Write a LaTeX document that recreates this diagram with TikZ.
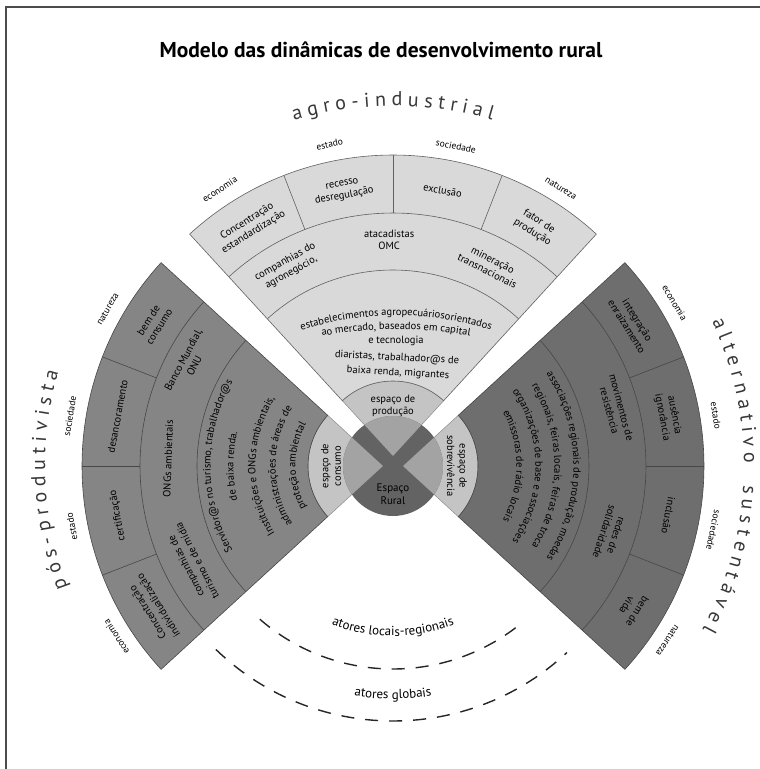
\documentclass[tikz,border=0pt]{standalone}
\usepackage{fontspec}
\setmainfont{PT Sans}
\usetikzlibrary{calc,decorations.text}
\newcommand\annsec[4]{(#1:#4pt) arc[start angle=#1, end angle=#2, radius=#4pt] -- (#2:#3pt) arc[start angle=#2, end angle=#1, radius=#3pt] -- cycle}
\newcommand\wedgep[3]{(0,0) -- (#1:#3pt) arc[start angle=#1, end angle=#2, radius=#3pt] -- cycle}
\newcommand\arctxt[6]{\path[decorate, decoration={text along path, text align=center, text={|#5|#6}}] ($(#1)+(#2:#4pt)$) arc[start angle=#2, end angle=#3, radius=#4pt];}
\newcommand\ctxt{\fontsize{10.5}{12.5}\selectfont}
\newcommand\ttlfont{\color{black!78}\fontsize{20}{24}\selectfont}
\definecolor{topfill}{gray}{0.85}
\definecolor{espfill}{gray}{0.77}
\definecolor{wedgefill}{gray}{0.64}
\definecolor{circfill}{gray}{0.39}
\definecolor{leftfill}{gray}{0.52}
\definecolor{rightfill}{gray}{0.43}
\begin{document}
\begin{tikzpicture}[x=1pt,y=1pt,
  secline/.style={draw=black!62, line width=0.6pt},
  darkline/.style={draw=black!72, line width=0.6pt},
  espline/.style={draw=black!45, line width=0.5pt},
  cell/.style={font=\ctxt, align=center, inner sep=0pt},
  lbl/.style={font=\fontsize{9.5}{11}\selectfont, inner sep=0pt},
  dashline/.style={draw=black!85, line width=1.4pt, dash pattern=on 13pt off 11pt}]
\useasboundingbox (-393,-303) rectangle (367,466);
\fill[white] (-393,-303) rectangle (367,466);
\draw[black!70, line width=1.5pt] (-387,-303) -- (-387,459) -- (367,459);

% title
\node[font=\bfseries\fontsize{21.5}{25}\selectfont] (title) at (-12,416) {Modelo das dinâmicas de desenvolvimento rural};

% ---------- top sector ----------
\begin{scope}[shift={(0,10)}]
  \coordinate (T) at (0,0);
  \fill[espfill] \wedgep{47.5}{132.5}{75};
  \draw[espline] \wedgep{47.5}{132.5}{75};
  \fill[topfill] \annsec{47.5}{132.5}{75}{301};
  \draw[secline] \annsec{47.5}{132.5}{75}{301};
  \draw[secline] (47.5:243pt) arc[start angle=47.5, end angle=132.5, radius=243pt];
  \draw[secline] (47.5:186pt) arc[start angle=47.5, end angle=132.5, radius=186pt];
  \foreach \a in {68.75,90,111.25} \draw[secline] (\a:243pt) -- (\a:301pt);
  \node[cell, rotate=31.9] (t1) at (121.9:270pt) {Concentração\\estandardização};
  \node[cell, rotate=10.6] (t2) at (100.6:270pt) {recesso\\desregulação};
  \node[cell, rotate=-10.6] (t3) at (79.4:270pt) {exclusão};
  \node[cell, rotate=-31.9] (t4) at (58.1:270pt) {fator de\\produção};
  \node[cell, rotate=29] (t5) at (119:216pt) {companhias do\\agronegócio,};
  \node[cell] (t6) at (91:216pt) {atacadistas\\OMC};
  \node[cell, rotate=-27] (t7) at (63:214pt) {mineração\\transnacionais};
  \arctxt{3,-173.5}{112}{68}{314}{\ctxt}{estabelecimentos agropecuáriosorientados}
  \arctxt{3,-303.5}{105}{75}{430}{\ctxt}{ao mercado, baseados em capital}
  \node[cell] (t8) at (3,115) {e tecnologia};
  \node[cell, rotate=-3] (t9) at (4,98) {diaristas, trabalhador@s de};
  \node[cell, rotate=-3] (t10) at (5,83) {baixa renda, migrantes};
  \node[lbl, rotate=33] (tl1) at (123:318pt) {economia};
  \node[lbl, rotate=11.5] (tl2) at (101.5:318pt) {estado};
  \node[lbl, rotate=-11.5] (tl3) at (78.5:316pt) {sociedade};
  \node[lbl, rotate=-32] (tl4) at (57.9:316pt) {natureza};
  \arctxt{T}{125}{55}{350}{\ttlfont}{a g r o - i n d u s t r i a l}
\end{scope}

% ---------- left sector ----------
\begin{scope}[shift={(-10,0)}]
  \coordinate (L) at (0,0);
  \fill[espfill] \wedgep{137.5}{222.5}{75};
  \draw[espline] \wedgep{137.5}{222.5}{75};
  \fill[leftfill] \annsec{137.5}{222.5}{75}{301};
  \draw[darkline] \annsec{137.5}{222.5}{75}{301};
  \draw[darkline] (137.5:243pt) arc[start angle=137.5, end angle=222.5, radius=243pt];
  \draw[darkline] (137.5:186pt) arc[start angle=137.5, end angle=222.5, radius=186pt];
  \foreach \a in {158.75,180,201.25} \draw[darkline] (\a:243pt) -- (\a:301pt);
  \node[cell, rotate=58.1] (l1) at (148.1:270pt) {bem de\\consumo};
  \node[cell, rotate=79.4] (l2) at (169.4:270pt) {desancoramento};
  \node[cell, rotate=100.6] (l3) at (190.6:270pt) {certificação};
  \node[cell, rotate=121.9] (l4) at (211.9:270pt) {Concentração\\individualização};
  \node[cell, rotate=62] (l5) at (152:220pt) {Banco Mundial,\\ONU};
  \node[cell, rotate=88] (l6) at (178:215pt) {ONGs ambientais};
  \node[cell, rotate=117] (l7) at (207:215pt) {companhias de\\turismo e de mídia};
  \arctxt{L}{235}{125}{172.5}{\ctxt}{Servidor@s no turismo, trabalhador@s}
  \arctxt{L}{235}{125}{149.5}{\ctxt}{de baixa renda.}
  \arctxt{L}{235}{125}{127.5}{\ctxt}{Instituições e ONGs ambientais,}
  \arctxt{L}{235}{125}{107.5}{\ctxt}{administrações de áreas de}
  \arctxt{L}{235}{125}{87.5}{\ctxt}{proteção ambiental}
  \node[lbl, rotate=60.3] (ll1) at (150.3:317pt) {natureza};
  \node[lbl, rotate=81] (ll2) at (171:317pt) {sociedade};
  \node[lbl, rotate=101] (ll3) at (191:317pt) {estado};
  \node[lbl, rotate=122.7] (ll4) at (212.7:317pt) {economia};
  \arctxt{L}{222.4}{142.4}{338}{\ttlfont}{p ó s - p r o d u t i v i s t a}
\end{scope}

% ---------- right sector ----------
\begin{scope}[shift={(10,0)}]
  \coordinate (R) at (0,0);
  \fill[espfill] \wedgep{-42.5}{42.5}{75};
  \draw[espline] \wedgep{-42.5}{42.5}{75};
  \fill[rightfill] \annsec{-42.5}{42.5}{75}{301};
  \draw[darkline] \annsec{-42.5}{42.5}{75}{301};
  \draw[darkline] (-42.5:243pt) arc[start angle=-42.5, end angle=42.5, radius=243pt];
  \draw[darkline] (-42.5:186pt) arc[start angle=-42.5, end angle=42.5, radius=186pt];
  \foreach \a in {21.25,0,-21.25} \draw[darkline] (\a:243pt) -- (\a:301pt);
  \node[cell, rotate=-58.1] (r1) at (31.9:270pt) {integração\\enraizamento};
  \node[cell, rotate=-79.4] (r2) at (10.6:270pt) {ausência\\ignorância};
  \node[cell, rotate=-100.6] (r3) at (-10.6:270pt) {inclusão};
  \node[cell, rotate=-121.9] (r4) at (-31.9:270pt) {bem de\\vida};
  \node[cell, rotate=-75] (r5) at (15:220pt) {movimentos de\\resistência};
  \node[cell, rotate=-108] (r6) at (-18:218pt) {redes de\\solidaridade};
  \arctxt{R}{55}{-55}{170.5}{\ctxt}{associações regionais de produção, moedas}
  \arctxt{R}{55}{-55}{151.5}{\ctxt}{regionais, feiras locais, feiras de troca}
  \arctxt{R}{55}{-55}{132.5}{\ctxt}{organizações de base e associações}
  \arctxt{R}{55}{-55}{113.5}{\ctxt}{emissoras de rádio locais}
  \node[lbl, rotate=-59] (rl1) at (31:317pt) {economia};
  \node[lbl, rotate=-80.8] (rl2) at (9.2:317pt) {estado};
  \node[lbl, rotate=-101.7] (rl3) at (-11.7:317pt) {sociedade};
  \node[lbl, rotate=-123.4] (rl4) at (-33.4:317pt) {natureza};
  \arctxt{R}{40.7}{-15.3}{341}{\ttlfont}{a l t e r n a t i v o}
  \arctxt{R}{12.1}{-43.9}{341}{\ttlfont}{s u s t e n t á v e l}
\end{scope}

% ---------- central circle ----------
\fill[circfill] (0,0) circle (50pt);
\begin{scope}
  \clip (0,0) circle (50pt);
  \fill[wedgefill, shift={(0,10)}] \wedgep{47.5}{132.5}{75};
  \fill[wedgefill, shift={(-10,0)}] \wedgep{137.5}{222.5}{75};
  \fill[wedgefill, shift={(10,0)}] \wedgep{-42.5}{42.5}{75};
\end{scope}
\node[cell] (ep) at (0,60) {espaço de\\produção};
\node[cell, rotate=90] (ec) at (-62,0) {espaço de\\consumo};
\node[cell, rotate=-90] (es) at (64,0) {espaço de\\sobrevivência};
\node[cell, font=\fontsize{11}{13}\selectfont] (er) at (0,-28) {Espaço\\Rural};

% ---------- bottom dashed arcs ----------
\draw[dashline] (229:203pt) arc[start angle=229, end angle=308, radius=203pt];
\draw[dashline] (226:255pt) arc[start angle=226, end angle=313, radius=255pt];
\coordinate (O) at (0,0);
\arctxt{O}{240}{300}{170}{\fontsize{13}{15}\selectfont}{atores locais-regionais}
\arctxt{O}{250}{290}{233}{\fontsize{13}{15}\selectfont}{atores globais}
\end{tikzpicture}
\end{document}
